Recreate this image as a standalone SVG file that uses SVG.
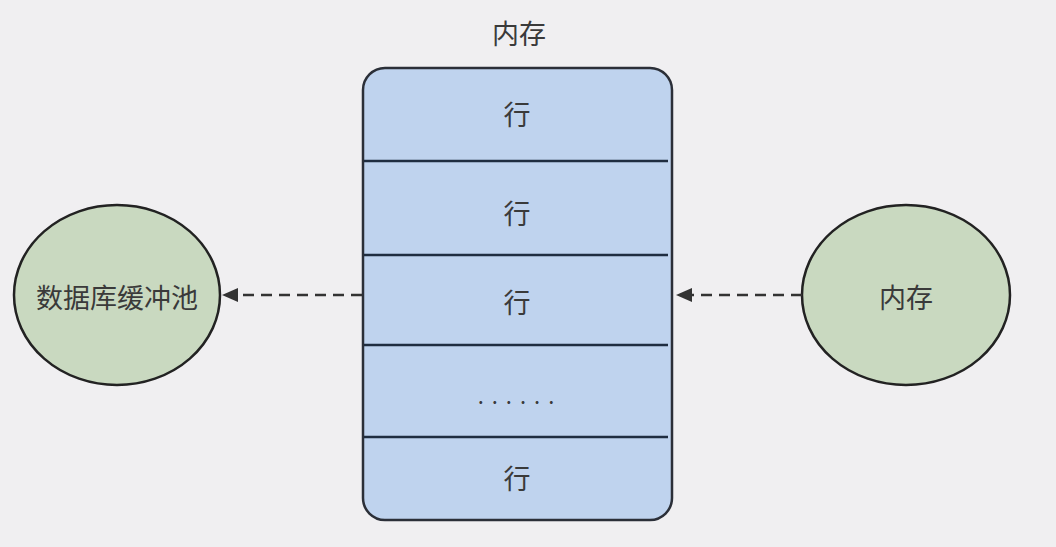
<svg xmlns="http://www.w3.org/2000/svg" width="1056" height="547" viewBox="0 0 1056 547">
<defs>
<style>
text{font-family:"Noto Sans CJK SC","Liberation Sans",sans-serif;font-size:27px;fill:#3a3a3a;text-anchor:middle;dominant-baseline:central}
.ell{fill:#c9d9c0;stroke:#222;stroke-width:2.5}
.box{fill:#bfd3ee;stroke:#2b2f38;stroke-width:2.5}
.div{stroke:#1f2d40;stroke-width:2.5}
.con{stroke:#333;stroke-width:2.5;stroke-dasharray:11 7;fill:none}
</style>
</defs>
<rect width="1056" height="547" fill="#f0eff1"/>
<text x="519" y="32">内存</text>
<g id="memory">
<rect class="box" x="363" y="68" width="309" height="452" rx="22"/>
<line class="div" x1="364" y1="161" x2="668" y2="161"/>
<line class="div" x1="364" y1="255" x2="668" y2="255"/>
<line class="div" x1="364" y1="345" x2="668" y2="345"/>
<line class="div" x1="364" y1="437" x2="668" y2="437"/>
<text x="517" y="113">行</text>
<text x="517" y="212">行</text>
<text x="517" y="301">行</text>
<text x="520" y="394" style="font-size:22px;letter-spacing:8px">......</text>
<text x="517" y="477">行</text>
</g>
<g id="buffer-pool">
<ellipse class="ell" cx="117" cy="295" rx="103" ry="90"/>
<text x="117" y="296">数据库缓冲池</text>
</g>
<g id="mem-node">
<ellipse class="ell" cx="906" cy="295" rx="104" ry="90"/>
<text x="906" y="296">内存</text>
</g>
<g id="connectors">
<path class="con" d="M362,295 L236,295"/>
<path d="M222,295 L238,288 L238,302 z" fill="#333"/>
<path class="con" d="M802,295 L690,295"/>
<path d="M676,295 L692,288 L692,302 z" fill="#333"/>
</g>
</svg>
